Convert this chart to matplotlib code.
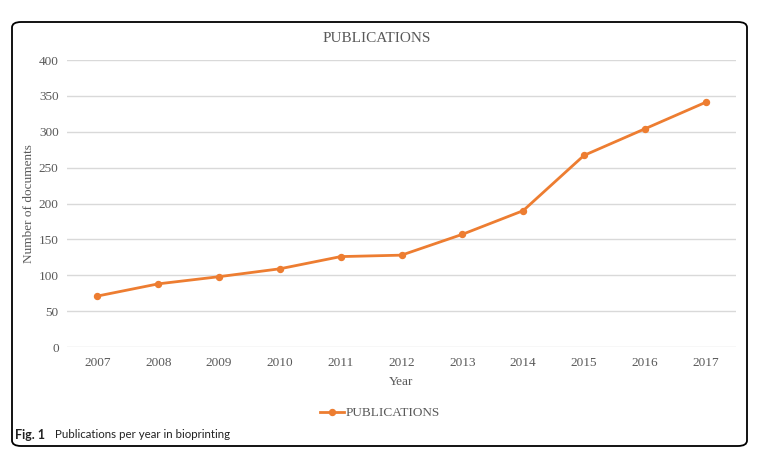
import numpy as np
import matplotlib
matplotlib.use('Agg')
import matplotlib.pyplot as plt
from matplotlib.patches import FancyBboxPatch

# 数据
years = ['2007', '2008', '2009', '2010', '2011', '2012', '2013', '2014', '2015', '2016', '2017']
documents = [71, 88, 98, 109, 126, 128, 157, 190, 267, 304, 341]
y_ticks = [0, 50, 100, 150, 200, 250, 300, 350, 400]

orange = '#ED7D31'
grey_text = '#595959'
W, H = 762, 458

matplotlib.rcParams['font.family'] = 'Liberation Serif'
fig = plt.figure(figsize=(W / 100, H / 100), dpi=100)

# 外框
frame = FancyBboxPatch((12 / W, 1 - 446 / H), (747 - 12) / W, (446 - 22) / H,
                       boxstyle='round,pad=0,rounding_size=0.012',
                       transform=fig.transFigure, facecolor='none',
                       edgecolor='black', linewidth=1.3, zorder=5)
fig.patches.append(frame)

ax = fig.add_axes([67 / W, 1 - 347 / H, (736 - 67) / W, (347 - 60) / H])
ax.set_facecolor('none')
x = np.arange(len(years))
ax.plot(x, documents, color=orange, linewidth=2, marker='o', markersize=4.3,
        label='PUBLICATIONS')
ax.set_xlim(-0.5, len(years) - 0.5)
ax.set_ylim(0, 400)
ax.set_yticks(y_ticks)
ax.set_xticks(x)
ax.set_xticklabels(years)
ax.grid(axis='y', color='#D9D9D9', linewidth=1)
ax.set_axisbelow(True)
for s in ax.spines.values():
    s.set_visible(False)
ax.tick_params(length=0, colors=grey_text, labelsize=9.5)
ax.tick_params(axis='y', pad=6)
ax.tick_params(axis='x', pad=7)

fig.text(377 / W, 1 - 39 / H, 'PUBLICATIONS', color=grey_text, fontsize=11,
         ha='center', va='center')
ax.set_xlabel('Year', color=grey_text, fontsize=9.5, labelpad=5)
ax.set_ylabel('Number of documents', color=grey_text, fontsize=9.5, labelpad=3)

fig.legend(loc='center', bbox_to_anchor=(380 / W, 1 - 413 / H), frameon=False,
           fontsize=9.5, handlelength=1.8, labelcolor=grey_text, handletextpad=0.1)

# 图注
fig.text(15 / W, 1 - 435 / H, 'Fig. 1', fontsize=9, va='center',
         family='Lato', weight='bold', color='#222222')
fig.text(55 / W, 1 - 435 / H, 'Publications per year in bioprinting', fontsize=8.3,
         va='center', family='Lato', color='#222222')

fig.savefig('out.png', dpi=100)
